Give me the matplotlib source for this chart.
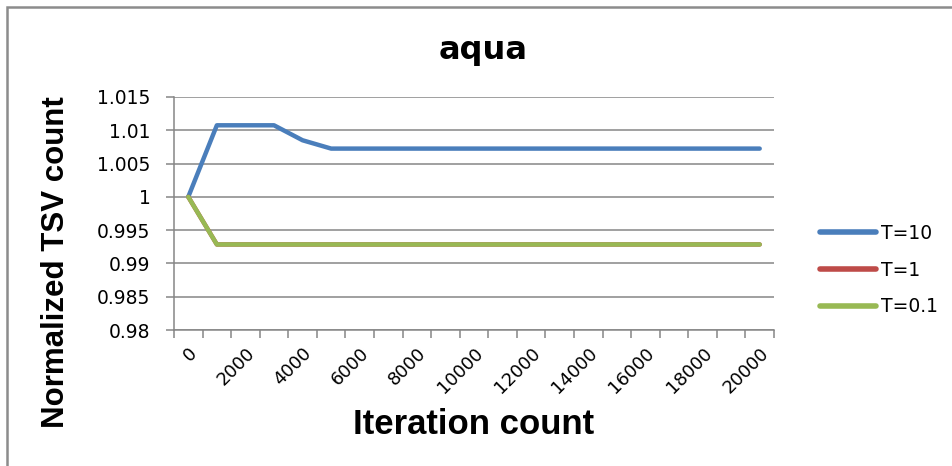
import matplotlib
matplotlib.use("Agg")
import matplotlib.pyplot as plt
import numpy as np
from matplotlib.patches import Rectangle

iterations = [0, 1000, 2000, 3000, 4000, 5000, 6000, 7000, 8000, 9000, 10000,
              11000, 12000, 13000, 14000, 15000, 16000, 17000, 18000, 19000, 20000]
t10 = [1.0, 1.01075, 1.01075, 1.01075, 1.0085, 1.00725] + [1.00725] * 15
t1 = [1.0] + [0.99285] * 20
t01 = [1.0] + [0.99285] * 20
series_names = ["T=10", "T=1", "T=0.1"]
colors = ["#4A7EBB", "#BE4B48", "#98B954"]
yticks = [0.98, 0.985, 0.99, 0.995, 1.0, 1.005, 1.01, 1.015]
ytick_labels = ["0.98", "0.985", "0.99", "0.995", "1", "1.005", "1.01", "1.015"]

W, H = 952, 466
fig = plt.figure(figsize=(W / 100, H / 100), dpi=100)
ax = fig.add_axes([174 / W, 1 - 330 / H, 600 / W, (330 - 97) / H])

pos = np.arange(len(iterations))
for vals, name, c in zip([t10, t1, t01], series_names, colors):
    ax.plot(pos, vals, color=c, lw=3.2, label=name, solid_capstyle="round",
            solid_joinstyle="round", zorder=3)

ax.set_xlim(-0.5, len(iterations) - 0.5)
ax.set_ylim(0.98, 1.015)
ax.set_yticks(yticks)
ax.set_yticklabels(ytick_labels, fontsize=13.5, family="DejaVu Sans")
ax.grid(axis="y", color="#868686", lw=1.1, zorder=1)

# tick marks between categories, labels on every other category
ax.set_xticks(np.arange(-0.5, len(iterations)))
ax.set_xticklabels([])
ax.set_xticks(pos[::2], minor=True)
ax.set_xticklabels([str(v) for v in iterations[::2]], minor=True, rotation=45,
                   ha="right", va="top", rotation_mode="anchor", fontsize=13,
                   family="DejaVu Sans")
ax.tick_params(axis="x", which="major", length=6, color="#868686", width=1.1)
ax.tick_params(axis="x", which="minor", length=0, pad=10)
ax.tick_params(axis="y", length=6, color="#868686", width=1.1, pad=11)

for s in ["top", "right"]:
    ax.spines[s].set_visible(False)
for s in ["left", "bottom"]:
    ax.spines[s].set_color("#868686")
    ax.spines[s].set_linewidth(1.1)

fig.text(483 / W, 1 - 51 / H, "aqua", ha="center", va="center", fontsize=23,
         fontweight="bold", family="DejaVu Sans")
fig.text(474 / W, 1 - 425 / H, "Iteration count", ha="center", va="center",
         fontsize=25, fontweight="bold", family="Liberation Sans")
fig.text(56 / W, 1 - 262 / H, "Normalized TSV count", ha="center", va="center",
         rotation=90, fontsize=22.5, fontweight="bold", family="Liberation Sans")

leg = fig.legend(loc="center left", bbox_to_anchor=(812 / W, 1 - 270 / H),
                 frameon=False, fontsize=13.5, handlelength=3.0,
                 handletextpad=0.3, labelspacing=0.95, borderaxespad=0)
for t in leg.get_texts():
    t.set_family("DejaVu Sans")
for h in leg.get_lines():
    h.set_linewidth(4)

# chart border (only top and left edges visible)
fig.add_artist(Rectangle((7 / W, -0.2), 1.2, 1.2 - 7 / H, transform=fig.transFigure,
                         fill=False, edgecolor="#8C8C8C", lw=1.8, clip_on=False))

fig.savefig("out.png", dpi=100)
